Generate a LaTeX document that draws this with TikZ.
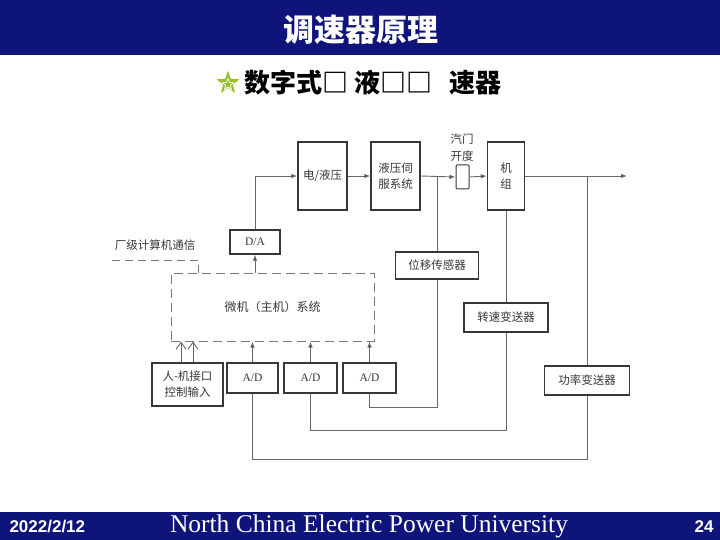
\documentclass[tikz,border=0pt]{standalone}
\usepackage{fontspec}
\setmainfont{Liberation Serif}
\newfontfamily\cjk{Noto Sans CJK SC}
\newfontfamily\sansf{Liberation Sans}
\usetikzlibrary{arrows.meta,shapes.geometric}
\definecolor{barc}{RGB}{14,20,122}
\definecolor{boxc}{RGB}{55,55,55}
\definecolor{linec}{RGB}{105,105,105}
\definecolor{dashc}{RGB}{120,120,120}
\definecolor{txt}{RGB}{55,55,55}
\definecolor{starc}{RGB}{150,190,40}
\begin{document}
\begin{tikzpicture}[x=1pt,y=-1pt,
  blk/.style={draw=boxc, line width=1.4pt, fill=white, inner sep=0pt, align=center,
    font=\cjk\fontsize{11.5}{16}\selectfont, text=txt},
  adbox/.style={blk, font=\fontsize{11.5}{14}\selectfont},
  lbl/.style={inner sep=0pt, align=center, font=\cjk\fontsize{11.5}{17}\selectfont, text=txt},
  ln/.style={draw=linec, line width=0.9pt},
  arr/.style={ln, -{Latex[length=6pt,width=4.5pt,fill=boxc]}},
  barb/.style={ln, -{Straight Barb[length=7pt,width=10pt]}},
  dashln/.style={draw=dashc, line width=1pt, dash pattern=on 8pt off 5pt}
]
\useasboundingbox (0,0) rectangle (720,540);
% bars
\fill[barc] (0,0) rectangle (720,55);
\fill[barc] (0,512) rectangle (720,540);
\node[text=white, font=\cjk\bfseries\fontsize{31}{36}\selectfont] (title) at (361,30) {调速器原理};
\node[star, star points=5, star point ratio=2.4, fill=starc, minimum size=24pt, inner sep=0pt] (star) at (228,83) {};
\node[star, star points=5, star point ratio=2.4, draw=white, line width=0.7pt, minimum size=12pt, inner sep=0pt] (star2) at (228,84.5) {};
\node[anchor=west, font=\cjk\bfseries\fontsize{26}{30}\selectfont] (sub) at (241,83) {数字式□ 液□□\hspace{11pt} 速器};
\node[anchor=west, text=white, font=\sansf\bfseries\fontsize{17}{20}\selectfont] (date) at (6,527) {2022/2/12};
\node[text=white, font=\fontsize{25.5}{28}\selectfont] (uni) at (369,526) {North China Electric Power University};
\node[text=white, font=\sansf\bfseries\fontsize{17}{20}\selectfont] (pg) at (704,527) {24};

% diagram blocks
\node[blk, minimum width=49, minimum height=68] (ehy) at (322.5,176) {电/液压};
\node[blk, minimum width=49, minimum height=68] (servo) at (395.5,176) {液压伺\\服系统};
\node[draw=boxc, line width=1pt, fill=white, rounded corners=1pt, minimum width=13, minimum height=24, inner sep=0pt] (valve) at (462.5,177) {};
\node[lbl] (vlab) at (462,147.5) {汽门\\开度};
\node[blk, minimum width=37, minimum height=68] (unit) at (506,176) {机\\组};
\node[adbox, minimum width=50, minimum height=24] (da) at (255,242) {D/A};
\node[draw=dashc, line width=1pt, dash pattern=on 9pt off 5pt, minimum width=203, minimum height=68, inner sep=0pt,
  font=\cjk\fontsize{12}{14}\selectfont, text=txt] (micro) at (272.5,307) {微机（主机）系统};
\node[lbl] (comm) at (155,245) {厂级计算机通信};
\node[blk, minimum width=71, minimum height=43] (hmi) at (187.5,384.5) {人-机接口\\控制输入};
\node[adbox, minimum width=51, minimum height=30] (ad1) at (252.5,378) {A/D};
\node[adbox, minimum width=53, minimum height=30] (ad2) at (310.5,378) {A/D};
\node[adbox, minimum width=53, minimum height=30] (ad3) at (369.5,378) {A/D};
\node[blk, minimum width=83, minimum height=27] (disp) at (437,265.5) {位移传感器};
\node[blk, minimum width=84, minimum height=29] (speed) at (506,317.5) {转速变送器};
\node[blk, minimum width=85, minimum height=29] (power) at (587,380.5) {功率变送器};

\coordinate (out) at (627,176);
\coordinate (j1) at (437,176);
\coordinate (j2) at (587,176);
\coordinate (c3) at (437,407);
\coordinate (c2) at (506,430);
\coordinate (c1) at (587,459);
\coordinate (cm) at (112,260);
\coordinate (cm2) at (198,260);

% forward path
\draw[arr] (da.north) |- (ehy.west);
\draw[arr] (ehy.east) -- (servo.west);
\draw[arr] (servo.east) -- (valve.west);
\draw[arr] (valve.east) -- (unit.west);
\draw[arr] (unit.east) -- (out);
% feedback
\draw[ln] (j1) -- (disp.north);
\draw[ln] (disp.south) -- (c3) -| (ad3.south);
\draw[ln] (unit.south) -- (speed.north);
\draw[ln] (speed.south) -- (c2) -| (ad2.south);
\draw[ln] (j2) -- (power.north);
\draw[ln] (power.south) -- (c1) -| (ad1.south);
% into micro
\draw[arr] (ad1.north) -- (ad1.north |- micro.south);
\draw[arr] (ad2.north) -- (ad2.north |- micro.south);
\draw[arr] (ad3.north) -- (ad3.north |- micro.south);
\draw[arr] (da.south |- micro.north) -- (da.south);
\draw[barb] ([xshift=-6.5pt]hmi.north) -- ([xshift=-6.5pt]hmi.north |- micro.south);
\draw[barb] ([xshift=5.5pt]hmi.north) -- ([xshift=5.5pt]hmi.north |- micro.south);
% communication
\draw[dashln] (cm) -- (cm2) -- (cm2 |- micro.north);
\end{tikzpicture}
\end{document}
